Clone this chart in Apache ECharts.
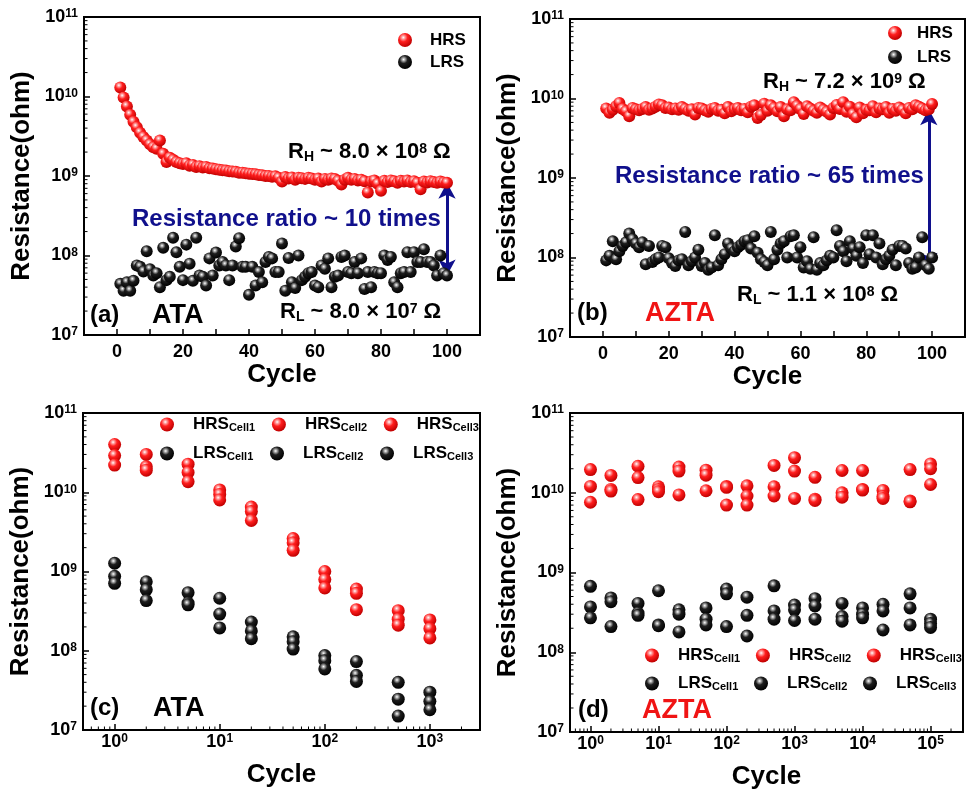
<!DOCTYPE html>
<html><head><meta charset="utf-8">
<script src="https://cdn.jsdelivr.net/npm/echarts@6/dist/echarts.min.js"></script>
<style>html,body{margin:0;padding:0;background:#fff}#c{width:967px;height:793px}</style>
</head><body><div id="c"></div>
<script>
const FF = '"Liberation Sans", Arial, sans-serif';
// ---------- DATA ----------
const cyclesAB = Array.from({length:100}, (_, i) => i + 1);
const hrsA = [1.3e10,9.7e9,7.5e9,5.9e9,4.8e9,4.1e9,3.5e9,3.1e9,2.8e9,2.5e9,
  2.3e9,2.2e9,2.8e9,1.9e9,1.5e9,1.7e9,1.6e9,1.5e9,1.45e9,1.42e9,
  1.45e9,1.35e9,1.38e9,1.3e9,1.33e9,1.28e9,1.3e9,1.25e9,1.24e9,1.22e9,
  1.2e9,1.18e9,1.17e9,1.15e9,1.14e9,1.13e9,1.1e9,1.1e9,1.08e9,1.07e9,
  1.06e9,1.05e9,1.03e9,1.02e9,1.0e9,1.0e9,0.98e9,0.99e9,0.95e9,0.85e9,
  0.97e9,0.93e9,0.96e9,0.9e9,0.95e9,0.94e9,0.92e9,0.95e9,0.93e9,0.9e9,
  0.93e9,0.85e9,0.92e9,0.9e9,0.93e9,0.92e9,0.87e9,0.78e9,0.9e9,0.95e9,
  0.9e9,0.92e9,0.88e9,0.9e9,0.86e9,0.62e9,0.85e9,0.88e9,0.8e9,0.65e9,
  0.87e9,0.84e9,0.88e9,0.86e9,0.82e9,0.87e9,0.85e9,0.88e9,0.84e9,0.86e9,
  0.82e9,0.68e9,0.85e9,0.83e9,0.86e9,0.84e9,0.82e9,0.85e9,0.83e9,0.82e9];
const lrsA = [4.4e7,3.6e7,4.6e7,3.6e7,4.8e7,7.5e7,7.2e7,6.3e7,1.13e8,6.7e7,
  5.6e7,6.0e7,4.0e7,1.25e8,4.9e7,5.4e7,1.67e8,1.1e8,7.2e7,4.9e7,
  1.37e8,7.9e7,4.8e7,1.67e8,5.6e7,5.4e7,4.2e7,9.2e7,5.6e7,1.09e8,
  7.5e7,8.3e7,7.5e7,4.9e7,7.5e7,1.3e8,1.65e8,7.2e7,7.2e7,3.2e7,
  7.2e7,4.2e7,6.2e7,4.6e7,8.3e7,9.6e7,9.2e7,6.2e7,6.2e7,1.42e8,
  3.6e7,9.3e7,4.6e7,3.9e7,1.0e8,4.9e7,5.4e7,6.0e7,6.2e7,4.2e7,
  4.0e7,7.5e7,6.8e7,9.2e7,4.0e7,5.4e7,5.6e7,9.6e7,1.0e8,6.2e7,
  6.0e7,8.3e7,6.0e7,9.2e7,3.8e7,6.2e7,4.0e7,6.2e7,6.0e7,6.0e7,
  1.0e8,8.8e7,9.6e7,4.6e7,4.0e7,6.0e7,6.2e7,1.1e8,6.2e7,1.1e8,
  8.3e7,8.3e7,1.2e8,8.3e7,8.3e7,7.5e7,5.6e7,1.0e8,6.0e7,5.6e7];
const hrsB = [7.5e9,6.6e9,7.2e9,8.0e9,8.8e9,7.4e9,6.9e9,6.0e9,7.6e9,7.3e9,
  7.1e9,7.4e9,7.8e9,7.2e9,7.5e9,7.9e9,8.4e9,8.2e9,7.6e9,7.7e9,
  7.3e9,7.5e9,7.2e9,7.8e9,7.4e9,7.0e9,7.3e9,6.3e9,7.6e9,7.5e9,
  7.1e9,6.8e9,7.4e9,7.6e9,7.0e9,7.2e9,6.5e9,7.8e9,6.9e9,7.3e9,
  7.6e9,7.1e9,7.4e9,6.7e9,7.9e9,8.2e9,5.7e9,6.2e9,8.6e9,7.0e9,
  8.2e9,7.6e9,6.9e9,7.8e9,6.0e9,7.3e9,7.1e9,9.0e9,8.1e9,7.4e9,
  6.4e9,8.0e9,7.5e9,7.0e9,6.6e9,7.7e9,7.2e9,6.8e9,6.3e9,7.6e9,
  8.3e9,7.4e9,9.0e9,6.8e9,7.9e9,6.4e9,5.8e9,7.7e9,6.5e9,7.2e9,
  7.1e9,8.0e9,6.7e9,7.5e9,7.3e9,7.8e9,6.6e9,7.4e9,7.0e9,7.7e9,
  7.2e9,6.5e9,7.6e9,7.3e9,8.2e9,7.9e9,7.5e9,7.1e9,7.3e9,8.5e9];
const lrsB = [9.2e7,1.05e8,1.6e8,9.5e7,1.2e8,1.4e8,1.55e8,2.0e8,1.7e8,1.5e8,
  1.35e8,1.55e8,8.2e7,1.4e8,8.8e7,9.5e7,1.0e8,1.4e8,1.35e8,9.8e7,
  8.5e7,7.8e7,9.2e7,9.5e7,2.1e8,8.0e7,9.0e7,1.0e8,1.25e8,7.8e7,
  8.5e7,7.0e7,7.5e7,1.9e8,8.0e7,9.5e7,1.1e8,1.5e8,1.3e8,1.2e8,
  1.35e8,1.45e8,1.6e8,1.65e8,1.3e8,1.85e8,1.15e8,9.5e7,8.8e7,8.0e7,
  2.1e8,9.5e7,1.25e8,1.5e8,1.6e8,1.0e8,1.85e8,1.9e8,1.0e8,1.35e8,
  7.5e7,9.0e7,7.2e7,1.8e8,7.0e7,8.5e7,8.0e7,9.2e7,1.05e8,1.0e8,
  2.2e8,1.4e8,1.2e8,9.0e7,1.6e8,1.3e8,1.05e8,1.35e8,8.5e7,1.9e8,
  1.1e8,1.9e8,1.0e8,1.5e8,8.2e7,9.5e7,1.05e8,1.25e8,8.0e7,1.4e8,
  1.4e8,1.3e8,8.5e7,7.2e7,7.5e7,1.0e8,1.8e8,8.0e7,7.2e7,1.0e8];
const cyclesC = [1,2,5,10,20,50,100,200,500,1000];
const hrsC1 = [4.0e10,3.0e10,2.26e10,1.07e10,6.5e9,2.6e9,1.0e9,6.0e8,3.2e8,2.45e8];
const hrsC2 = [2.9e10,2.1e10,1.78e10,9.4e9,5.7e9,2.3e9,7.9e8,5.3e8,2.5e8,1.9e8];
const hrsC3 = [2.2e10,1.9e10,1.36e10,8.0e9,4.4e9,1.85e9,6.2e8,3.3e8,2.1e8,1.45e8];
const lrsC1 = [1.27e9,7.4e8,5.4e8,4.6e8,2.3e8,1.5e8,8.7e7,7.3e7,4.0e7,3.0e7];
const lrsC2 = [8.7e8,5.9e8,4.0e8,2.9e8,1.78e8,1.3e8,7.5e7,4.9e7,2.45e7,2.3e7];
const lrsC3 = [7.1e8,4.3e8,3.8e8,1.94e8,1.42e8,1.05e8,5.9e7,4.1e7,1.5e7,1.8e7];
const cyclesD = [1,2,5,10,20,50,100,200,500,1000,2000,5000,10000,20000,50000,100000];
const hrsD1 = [1.95e10,1.65e10,2.15e10,1.19e10,2.1e10,1.92e10,1.2e10,1.22e10,2.2e10,2.75e10,1.56e10,1.9e10,1.9e10,1.07e10,1.95e10,2.3e10];
const hrsD2 = [1.2e10,1.1e10,1.55e10,1.1e10,1.87e10,1.66e10,1.17e10,9.1e9,1.19e10,1.87e10,8.3e9,1.0e10,1.1e10,9.0e9,7.9e9,2.0e10];
const hrsD3 = [7.6e9,1.05e10,8.2e9,1.03e10,9.4e9,1.06e10,7.0e9,7.0e9,9.1e9,8.5e9,8.0e9,8.8e9,1.08e10,8.5e9,7.7e9,1.27e10];
const lrsD1 = [6.7e8,4.8e8,4.1e8,5.9e8,3.4e8,3.6e8,6.2e8,4.9e8,6.8e8,3.9e8,4.7e8,4.1e8,3.6e8,4.0e8,5.4e8,2.6e8];
const lrsD2 = [3.7e8,4.3e8,3.1e8,2.2e8,3.0e8,2.6e8,5.4e8,2.9e8,3.3e8,3.4e8,3.8e8,2.8e8,3.0e8,3.3e8,3.6e8,2.3e8];
const lrsD3 = [2.7e8,2.1e8,2.9e8,2.15e8,1.8e8,2.2e8,2.1e8,1.6e8,2.6e8,2.5e8,2.6e8,2.45e8,2.7e8,1.9e8,2.2e8,2.05e8];
const xTicksLin = [0,20,40,60,80,100];

// ---------- STYLES ----------
const redBall = {type:'radial', x:0.38, y:0.32, r:0.68, colorStops:[
  {offset:0,color:'#ffffff'},{offset:0.18,color:'#ff9c9c'},{offset:0.45,color:'#ff1e1e'},{offset:1,color:'#c00000'}]};
const blackBall = {type:'radial', x:0.4, y:0.32, r:0.68, colorStops:[
  {offset:0,color:'#ffffff'},{offset:0.16,color:'#a8a8a8'},{offset:0.42,color:'#1e1e1e'},{offset:1,color:'#000000'}]};
const NAVY = '#10108c', DRED = '#8a1818', BRED = '#f01414';

const supRich = {
  b:{fontSize:18, fontWeight:'bold', color:'#000', fontFamily:FF, lineHeight:18, padding:[6,0,6,0]},
  s:{fontSize:12, fontWeight:'bold', color:'#000', fontFamily:FF, lineHeight:12, verticalAlign:'top'}
};
function powFmt(v){
  const e = Math.log10(v), r = Math.round(e);
  if (Math.abs(e - r) > 1e-6) return '';
  return '{b|10}{s|' + r + '}';
}
const axLine = {show:true, onZero:false, lineStyle:{color:'#000', width:2}};
const axTick = {show:true, inside:true, length:6, lineStyle:{color:'#000', width:1.5}};

function yLog(g){
  return {type:'log', logBase:10, gridIndex:g, min:1e7, max:1e11,
    axisLine:axLine, axisTick:axTick, minorTick:{show:false}, splitLine:{show:false},
    axisLabel:{formatter:powFmt, rich:supRich, margin:6},
    name:'Resistance(ohm)', nameLocation:'middle', nameGap:49, nameRotate:90,
    nameTextStyle:{fontSize:26, fontWeight:'bold', color:'#000', fontFamily:FF}};
}
function xLin(g){
  return {type:'value', gridIndex:g, min:-10, max:110, interval:10,
    axisLine:axLine, axisTick:axTick, splitLine:{show:false},
    axisLabel:{margin:8, fontSize:18, fontWeight:'bold', color:'#000', fontFamily:FF,
      formatter: v => xTicksLin.indexOf(v) >= 0 ? String(v) : ''},
    name:'Cycle', nameLocation:'middle', nameGap:27,
    nameTextStyle:{fontSize:26, fontWeight:'bold', color:'#000', fontFamily:FF}};
}
function xLog(g, max, split){
  return {type:'log', logBase:10, gridIndex:g, min:0.5, max:max, splitNumber:split,
    axisLine:axLine, axisTick:axTick, minorTick:{show:false}, splitLine:{show:false},
    axisLabel:{formatter:powFmt, rich:supRich, margin:3, showMinLabel:false, showMaxLabel:false},
    name:'Cycle', nameLocation:'middle', nameGap:32,
    nameTextStyle:{fontSize:26, fontWeight:'bold', color:'#000', fontFamily:FF}};
}
const gridBase = {show:true, borderColor:'#000', borderWidth:2, backgroundColor:'rgba(0,0,0,0)', containLabel:false, outerBoundsMode:'none'};

// minor log ticks (2..9 per decade) drawn through the axes' own scales
function logMinors(lo, hi){
  const out = [];
  for (let d = Math.floor(Math.log10(lo)); d <= Math.ceil(Math.log10(hi)); d++)
    for (let k = 2; k <= 9; k++){ const v = k * Math.pow(10, d); if (v > lo * 1.0001 && v < hi * 0.9999) out.push(v); }
  return out;
}
function minorTicks(g, xMin, yMin, yVals, xVals){
  const data = yVals.map(v => [xMin, v, 0]).concat(xVals.map(v => [v, yMin, 1]));
  return {type:'custom', xAxisIndex:g, yAxisIndex:g, clip:false, silent:true, z:10,
    renderItem:(p, api) => {
      const pt = api.coord([api.value(0), api.value(1)]);
      const vert = api.value(2) === 1;
      return {type:'line', shape: vert ? {x1:pt[0], y1:pt[1], x2:pt[0], y2:pt[1]-3.5}
                                       : {x1:pt[0], y1:pt[1], x2:pt[0]+3.5, y2:pt[1]},
        style:{stroke:'#000', lineWidth:1}};
    }, data};
}

function sc(name, g, xs, ys, ball, size, extra){
  return Object.assign({type:'scatter', name, xAxisIndex:g, yAxisIndex:g, symbol:'circle', symbolSize:size,
    itemStyle:{color:ball, opacity:1}, emphasis:{disabled:true}, z:5,
    data: xs.map((x, i) => [x, ys[i]])}, extra || {});
}
function arrowLine(x, y1, y2){
  return {markLine:{silent:true, symbol:['arrow','arrow'], symbolSize:[13,16], animation:false,
    lineStyle:{color:NAVY, width:3, type:'solid'}, label:{show:false},
    data:[[{coord:[x, y1]},{coord:[x, y2]}]]}};
}

const legTS = {fontSize:17, fontWeight:'bold', color:'#000', fontFamily:FF, lineHeight:20};
const cellRich = {
  m:{fontSize:17, fontWeight:'bold', color:'#000', fontFamily:FF, lineHeight:17, verticalAlign:'middle'},
  s:{fontSize:11, fontWeight:'bold', color:'#000', fontFamily:FF, lineHeight:11, verticalAlign:'bottom', padding:[12,0,0,0], width:37, align:'left'}
};
function cellFmt(n){ const p = n.split('_'); return '{m|' + p[0] + '}{s|' + p[1] + '}'; }
const cellNames = ['HRS_Cell1','HRS_Cell2','HRS_Cell3','LRS_Cell1','LRS_Cell2','LRS_Cell3'];

function annRich(color, size){
  return {
    t:{fontSize:size, fontWeight:'bold', color, fontFamily:FF, lineHeight:size, padding:[3,0,6,0]},
    sub:{fontSize:14, fontWeight:'bold', color, fontFamily:FF, lineHeight:14, verticalAlign:'bottom'},
    sup:{fontSize:14, fontWeight:'bold', color, fontFamily:FF, lineHeight:14, verticalAlign:'top'}
  };
}
function txt(x, y, text, color, size){
  return {type:'text', left:x, top:y, silent:true, z:50,
    style:{text, fill:color, font:'bold ' + size + 'px ' + FF}};
}
function rtxt(x, y, text, color, size){
  return {type:'text', left:x, top:y, silent:true, z:50,
    style:{text, rich:annRich(color, size)}};
}

const yMinor = logMinors(1e7, 1e11);
const option = {
  animation:false,
  backgroundColor:'#fff',
  grid:[
    Object.assign({left:84, top:17, width:396, height:318}, gridBase),
    Object.assign({left:570, top:19, width:395, height:318}, gridBase),
    Object.assign({left:83, top:413, width:397, height:317}, gridBase),
    Object.assign({left:570, top:413, width:393, height:319}, gridBase)
  ],
  xAxis:[xLin(0), xLin(1), xLog(2, 3000, 5), xLog(3, 3e5, 6)],
  yAxis:[yLog(0), yLog(1), yLog(2), yLog(3)],
  legend:[
    {data:['HRS','LRS'], orient:'vertical', left:398, top:30, itemWidth:14, itemHeight:14, itemGap:2, padding:0,
      icon:'circle', selectedMode:false, textStyle:Object.assign({padding:[0,0,0,13]}, legTS)},
    {data:['HRS','LRS'], orient:'vertical', left:888, top:23, itemWidth:14, itemHeight:14, itemGap:4, padding:0,
      icon:'circle', selectedMode:false, textStyle:Object.assign({padding:[0,0,0,10]}, legTS)},
    {data:cellNames, orient:'horizontal', left:160, top:410, width:345, itemWidth:14, itemHeight:14, itemGap:6, padding:0,
      icon:'circle', selectedMode:false, formatter:cellFmt,
      textStyle:{padding:[0,0,0,14], rich:cellRich}},
    {data:cellNames, orient:'horizontal', left:645, top:641, width:345, itemWidth:14, itemHeight:14, itemGap:5, padding:0,
      icon:'circle', selectedMode:false, formatter:cellFmt,
      textStyle:{padding:[0,0,0,14], rich:cellRich}}
  ],
  series:[
    minorTicks(0, -10, 1e7, yMinor, []),
    minorTicks(1, -10, 1e7, yMinor, []),
    minorTicks(2, 0.5, 1e7, yMinor, logMinors(0.5, 3000)),
    minorTicks(3, 0.5, 1e7, yMinor, logMinors(0.5, 3e5)),
    sc('HRS', 0, cyclesAB, hrsA, redBall, 12, arrowLine(cyclesAB[99], hrsA[99], lrsA[99])),
    sc('LRS', 0, cyclesAB, lrsA, blackBall, 12),
    sc('HRS', 1, cyclesAB, hrsB, redBall, 12, arrowLine(cyclesAB[98], hrsB[98], lrsB[98])),
    sc('LRS', 1, cyclesAB, lrsB, blackBall, 12),
    sc('HRS_Cell1', 2, cyclesC, hrsC1, redBall, 13),
    sc('HRS_Cell2', 2, cyclesC, hrsC2, redBall, 13),
    sc('HRS_Cell3', 2, cyclesC, hrsC3, redBall, 13),
    sc('LRS_Cell1', 2, cyclesC, lrsC1, blackBall, 13),
    sc('LRS_Cell2', 2, cyclesC, lrsC2, blackBall, 13),
    sc('LRS_Cell3', 2, cyclesC, lrsC3, blackBall, 13),
    sc('HRS_Cell1', 3, cyclesD, hrsD1, redBall, 13),
    sc('HRS_Cell2', 3, cyclesD, hrsD2, redBall, 13),
    sc('HRS_Cell3', 3, cyclesD, hrsD3, redBall, 13),
    sc('LRS_Cell1', 3, cyclesD, lrsD1, blackBall, 13),
    sc('LRS_Cell2', 3, cyclesD, lrsD2, blackBall, 13),
    sc('LRS_Cell3', 3, cyclesD, lrsD3, blackBall, 13)
  ],
  graphic:[
    rtxt(288, 138, '{t|R}{sub|H}{t| ~ 8.0 × 10}{sup|8}{t| Ω}', DRED, 22),
    txt(132, 207, 'Resistance ratio ~ 10 times', NAVY, 24),
    rtxt(280, 298, '{t|R}{sub|L}{t| ~ 8.0 × 10}{sup|7}{t| Ω}', '#000', 22),
    txt(90, 303, '(a)', '#000', 24),
    txt(152, 302, 'ATA', '#000', 27),
    rtxt(763, 68, '{t|R}{sub|H}{t| ~ 7.2 × 10}{sup|9}{t| Ω}', DRED, 22),
    txt(615, 164, 'Resistance ratio ~ 65 times', NAVY, 24),
    rtxt(737, 281, '{t|R}{sub|L}{t| ~ 1.1 × 10}{sup|8}{t| Ω}', '#000', 22),
    txt(577, 301, '(b)', '#000', 24),
    txt(645, 300, 'AZTA', BRED, 27),
    txt(90, 696, '(c)', '#000', 24),
    txt(153, 695, 'ATA', '#000', 27),
    txt(578, 698, '(d)', '#000', 24),
    txt(642, 697, 'AZTA', BRED, 27)
  ]
};
const chart = echarts.init(document.getElementById('c'), null, {renderer:'canvas'});
chart.setOption(option);
</script></body></html>
